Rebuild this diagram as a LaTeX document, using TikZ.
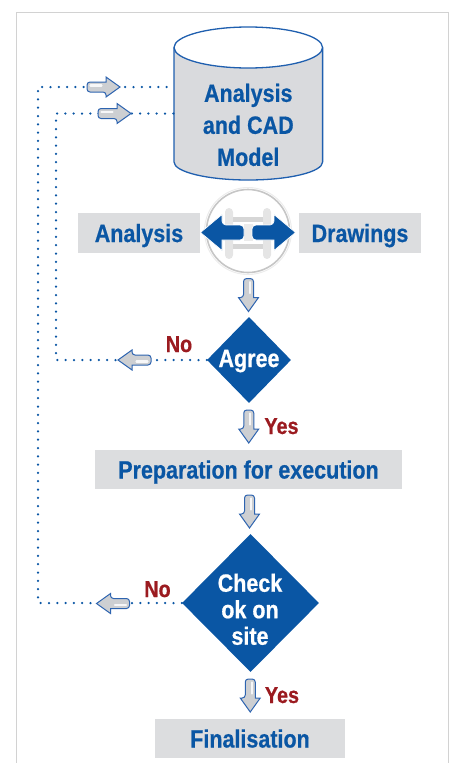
\documentclass[tikz,border=0pt]{standalone}
\usepackage{fontspec}
\setmainfont{Liberation Sans}[FakeStretch=0.86,BoldFeatures={FakeBold=0.6}]
\usetikzlibrary{shapes.geometric,calc}
\definecolor{cblue}{HTML}{0A56A4}
\definecolor{cbluel}{HTML}{2E64B0}
\definecolor{cylline}{HTML}{1F5FAF}
\definecolor{boxgray}{HTML}{DCDDDF}
\definecolor{cylgray}{HTML}{D9DADD}
\definecolor{cred}{HTML}{9B1B20}
\definecolor{framegray}{HTML}{D2D2D2}
\definecolor{arrgray}{HTML}{CDCFD2}
\begin{document}
\begin{tikzpicture}[x=1pt,y=-1pt,
  lbl/.style={font=\fontsize{25}{30}\selectfont\bfseries, text=cblue, inner sep=0pt, text height=18pt, text depth=0pt},
  graybox/.style={lbl, fill=boxgray},
  cyltext/.style={font=\fontsize{25}{32}\selectfont\bfseries, text=cblue, inner sep=0pt, align=center},
  decision/.style={shape=diamond, fill=cblue, inner sep=0pt},
  dtext/.style={font=\fontsize{25}{26.5}\selectfont\bfseries, text=white, inner sep=0pt, align=center},
  answer/.style={font=\fontsize{23}{28}\selectfont\bfseries, text=cred, inner sep=0pt, text height=17pt, text depth=0pt},
  dotline/.style={cblue, line width=2.5pt, line cap=round, dash pattern=on 0pt off 8.3pt},
  flowarr/.style={draw=cbluel, line width=1pt, fill=arrgray},
  bluearr/.style={fill=cblue, draw=white, line width=0.7pt},
  blockarr/.pic={
    \filldraw[flowarr] (2.5,-5) [rounded corners=3pt] -- (-16.5,-5) -- (-16.5,5) -- (2.5,5) [sharp corners] -- (2.5,10) -- (16.5,0) -- (2.5,-10) -- cycle;
    \draw[white, line width=2.2pt, line cap=round, opacity=0.85] (-13,-1.5) -- (-2,-1.5);
  },
]
\useasboundingbox (0,0) rectangle (454,763);

% frame
\draw[framegray, line width=1.3pt] (16.8,763) -- (16.8,12.5) -- (448.8,12.5) -- (448.8,763);

% cylinder: analysis and CAD model
\fill[cylgray] (174,47.5) rectangle (322.6,162);
\fill[cylgray] (248.3,162) ellipse[x radius=74.3pt, y radius=18pt];
\draw[cylline, line width=1.3pt] (174,47.5) -- (174,162) arc[start angle=180, end angle=360, x radius=74.3pt, y radius=18pt] -- (322.6,47.5);
\filldraw[cylline, line width=1.3pt, fill=white] (248.3,47.5) ellipse[x radius=74.3pt, y radius=20.5pt];
\node[cyltext] (cad) at (248.3,124.9) {Analysis\\and CAD\\Model};
\coordinate (cadA) at (174,87);
\coordinate (cadB) at (174,113.5);

% analysis / drawings exchange
\node[graybox, minimum width=122pt, minimum height=40pt] (ana) at (139,233) {Analysis};
\node[graybox, minimum width=122pt, minimum height=40pt] (drw) at (360,233) {Drawings};
\draw[gray!15, line width=1pt] (248,231) circle[radius=43.5pt];
\node[circle, minimum size=83pt, inner sep=0pt, draw=gray!45, line width=1.6pt] (sync) at (248,231) {};
\fill[gray!20, rounded corners=4pt] (225,208) rectangle (233,259);
\fill[gray!20, rounded corners=4pt] (263,208) rectangle (271,259);
\fill[gray!32] (233,217) rectangle (263,222);
\fill[gray!32] (233,244) rectangle (263,249);
\fill[gray!16] (243.5,224) rectangle (252.5,241);
\filldraw[bluearr] (222,225) -- (222,214.5) -- (200.5,232.5) -- (222,250.5) -- (222,240) [rounded corners=4pt] -- (244,240) -- (244,225) -- cycle;
\filldraw[bluearr] (274,225) -- (274,214.5) -- (295.5,232.5) -- (274,250.5) -- (274,240) [rounded corners=4pt] -- (252,240) -- (252,225) -- cycle;

% decisions and steps
\node[decision, minimum width=84pt, minimum height=86pt] (agree) at (249,360) {};
\node[dtext, text height=18pt, text depth=0pt] (agreetxt) at (249,358) {Agree};
\node[graybox, minimum width=307pt, minimum height=39pt] (prep) at (248.5,469.5) {Preparation for execution};
\node[decision, minimum width=137pt, minimum height=138pt] (check) at (250.5,603) {};
\node[dtext] (checktxt) at (250,609.3) {Check\\ok on\\site};
\node[graybox, minimum width=190pt, minimum height=39pt] (fin) at (250,738.5) {Finalisation};

% answers
\node[answer] (no1) at (179,343.5) {No};
\node[answer] (yes1) at (281.5,425.5) {Yes};
\node[answer] (no2) at (157.5,588.5) {No};
\node[answer] (yes2) at (282,694.5) {Yes};

% feedback loops
\draw[dotline] (check.west) -| (38,87) -- (cadA);
\draw[dotline] (agree.west) -| (56,113.5) -- (cadB);
\pic at (103.5,87) {blockarr};
\pic at (114.5,113.5) {blockarr};
\pic[rotate=180] at (134.5,360) {blockarr};
\pic[rotate=180] at (113,603.5) {blockarr};

% main flow
\pic[rotate=-90] at ($(sync.south)!0.5!(agree.north)$) {blockarr};
\pic[rotate=-90] at ($(agree.south)!0.5!(prep.north)$) {blockarr};
\pic[rotate=-90] at ($(prep.south)!0.5!(check.north)$) {blockarr};
\pic[rotate=-90] at ($(check.south)!0.5!(fin.north)$) {blockarr};
\end{tikzpicture}
\end{document}
